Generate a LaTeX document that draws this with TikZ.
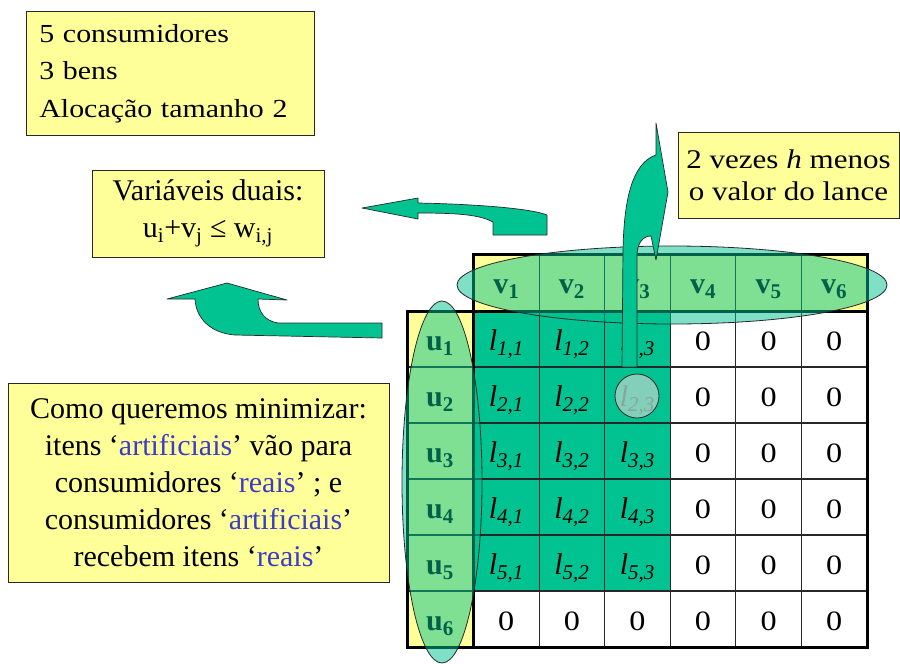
\documentclass[tikz,border=0pt]{standalone}
\usepackage{fontspec}
\setmainfont{Liberation Serif}
\newfontfamily\wideserif{Liberation Serif}[FakeStretch=1.15]
\definecolor{cellgreen}{RGB}{0,195,145}
\definecolor{boxyellow}{RGB}{255,255,153}
\definecolor{textblue}{RGB}{60,60,200}
\definecolor{gridline}{RGB}{40,40,40}
\definecolor{spotfill}{RGB}{165,210,195}
\tikzset{
  textbox/.style={draw=gridline, line width=0.8pt, fill=boxyellow, inner sep=0pt},
  thinline/.style={draw=gridline, line width=1.1pt},
  thickline/.style={draw=black, line width=3pt, line join=miter},
  hilite/.style={draw=gridline, line width=0.8pt, fill=cellgreen, fill opacity=0.5},
  spot/.style={draw=gridline, line width=0.8pt, fill=spotfill, fill opacity=0.8},
  blockarrow/.style={fill=cellgreen, draw=gridline, line width=0.7pt, line join=round},
  vlab/.style={anchor=base, inner sep=0pt, font=\fontsize{30}{32}\selectfont\bfseries},
  lcell/.style={anchor=base, inner sep=0pt, font=\fontsize{30}{32}\selectfont\itshape},
  zcell/.style={anchor=base, inner sep=0pt, font=\wideserif\fontsize{28}{30}\selectfont},
}
\begin{document}
\begin{tikzpicture}[x=1pt,y=-1pt]
\useasboundingbox (0,0) rectangle (900,664);
\fill[white] (0,0) rectangle (900,664);

% ---- table fills
\fill[boxyellow] (473.5,254) rectangle (867,311);
\fill[boxyellow] (407,311) rectangle (473.5,647);
\fill[cellgreen] (473.5,311) rectangle (670.24,591);

% ---- thin grid lines
\foreach \j in {1,...,5}
  \draw[thinline] ({473.5+\j*65.58},254) -- ({473.5+\j*65.58},647);
\foreach \i in {1,...,5}
  \draw[thinline] (407,{311+\i*56}) -- (867,{311+\i*56});

% ---- thick borders
\draw[thickline] (473.5,254) -- (867,254) -- (867,647) -- (407,647) -- (407,311) -- (473.5,311) -- cycle;
\draw[thickline] (473.5,311) -- (867,311);
\draw[thickline] (473.5,311) -- (473.5,647);

% ---- header labels
\foreach \j in {1,...,6}
  \node[vlab] (v\j) at ({473.5+(\j-0.5)*65.58},293) {v\textsubscript{\j}};
\foreach \i in {1,...,6}
  \node[vlab] (u\i) at (440,{350+(\i-1)*56}) {u\textsubscript{\i}};

% ---- cell entries
\foreach \i in {1,...,5}
  \foreach \j in {1,...,3}
    \node[lcell] (l\i\j) at ({473.5+(\j-0.5)*65.58},{350+(\i-1)*56}) {l\textsubscript{\i,\j}};
\foreach \i in {1,...,5}
  \foreach \j in {4,...,6}
    \node[zcell] (z\i\j) at ({473.5+(\j-0.5)*65.58},{350+(\i-1)*56}) {0};
\foreach \j in {1,...,6}
  \node[zcell] (z6\j) at ({473.5+(\j-0.5)*65.58},630) {0};

% ---- highlight ellipses and spot
\draw[hilite] (672,285) ellipse [x radius=215, y radius=39];
\draw[hilite] (442,482) ellipse [x radius=40, y radius=181];
\draw[spot] (637,396) circle [radius=22];

% ---- block arrows
\filldraw[blockarrow] (622,367) -- (623,250) .. controls (624,200) and (632,163) .. (656,155)
  -- (656,123) -- (668,192) -- (656,260) -- (651,236)
  .. controls (643,236) and (637,243) .. (637,256) -- (637,367) -- cycle;
\filldraw[blockarrow] (362,208) -- (418,198) -- (418,203)
  .. controls (470,204) and (530,208) .. (547,215) -- (547,235) -- (493,235) -- (493,222)
  .. controls (480,215) and (460,213) .. (418,213) -- (418,219) -- cycle;
\filldraw[blockarrow] (382,323) -- (278,323) .. controls (265,321) and (258,312) .. (258,299)
  -- (287,300) -- (227,283) -- (167,299) -- (195,299)
  .. controls (196,318) and (210,333) .. (235,335) -- (382,338) -- cycle;

% ---- text boxes
\node[textbox, anchor=north west, minimum width=288pt, minimum height=124pt,
      text width=262pt, align=left, inner xsep=13pt,
      font=\wideserif\fontsize{26}{37.5}\selectfont] (info) at (26,11)
  {5 consumidores\\3 bens\\Alocação tamanho 2};
\node[textbox, minimum width=232pt, minimum height=87pt, align=center,
      font=\fontsize{30}{37}\selectfont] (dual) at (208,213.5)
  {Variáveis duais:\\u\textsubscript{i}+v\textsubscript{j} ≤ w\textsubscript{i,j}};
\node[textbox, minimum width=221pt, minimum height=86pt, align=center,
      font=\wideserif\fontsize{27}{32}\selectfont] (twoh) at (788.5,175)
  {2 vezes \textit{h} menos\\o valor do lance};
\node[textbox, minimum width=381pt, minimum height=199pt, align=center,
      font=\fontsize{30}{37}\selectfont] (minim) at (198.5,482.5)
  {Como queremos minimizar:\\itens ‘\textcolor{textblue}{artificiais}’ vão para\\consumidores ‘\textcolor{textblue}{reais}’ ; e\\consumidores ‘\textcolor{textblue}{artificiais}’\\recebem itens ‘\textcolor{textblue}{reais}’};
\end{tikzpicture}
\end{document}
